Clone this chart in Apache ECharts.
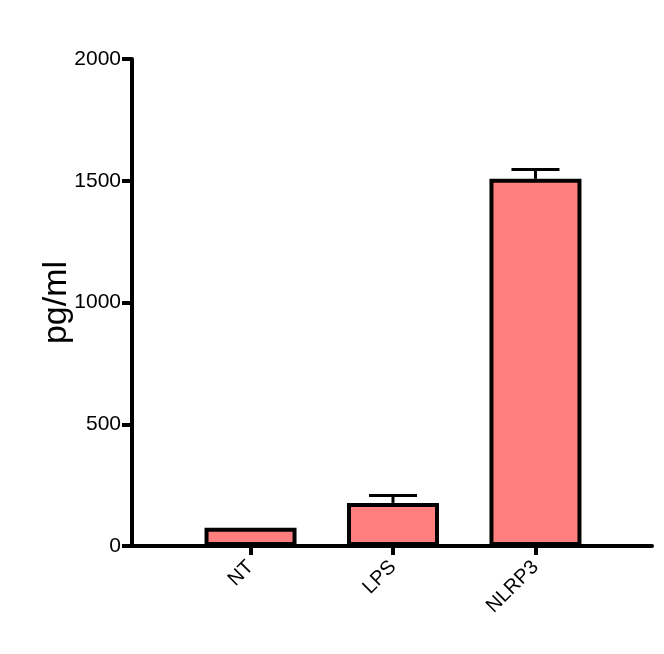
<!DOCTYPE html>
<html>
<head>
<meta charset="utf-8">
<script src="https://cdn.jsdelivr.net/npm/echarts@6/dist/echarts.min.js"></script>
<style>
  html, body { margin: 0; padding: 0; background: #fff; }
  #main { width: 664px; height: 654px; }
</style>
</head>
<body>
<div id="main"></div>
<script>
// data
var categories = ['NT', 'LPS', 'NLRP3'];
var means = [75, 177, 1508];
var sem = [0, 30, 38];
var yTicks = [0, 500, 1000, 1500, 2000];

var font = '"Liberation Sans", Arial, sans-serif';
var positions = categories.map(function (c, i) { return i + 1; });

var chart = echarts.init(document.getElementById('main'));
chart.setOption({
    backgroundColor: '#fff',
    animation: false,
    grid: { left: 132, right: 12, top: 59, bottom: 108 },
    xAxis: {
        type: 'value',
        min: 0.168,
        max: 3.818,
        splitLine: { show: false },
        axisLine: { lineStyle: { color: '#000', width: 4 } },
        axisTick: {
            show: true, length: 9, customValues: positions,
            lineStyle: { color: '#000', width: 4 }
        },
        axisLabel: {
            customValues: positions,
            rotate: 45,
            margin: 18,
            color: '#000',
            fontFamily: font,
            fontSize: 20,
            formatter: function (v) { return categories[Math.round(v) - 1]; }
        }
    },
    yAxis: {
        type: 'value',
        min: yTicks[0],
        max: yTicks[yTicks.length - 1],
        interval: 500,
        name: 'pg/ml',
        nameLocation: 'middle',
        nameGap: 58,
        nameMoveOverlap: false,
        nameTextStyle: { color: '#000', fontFamily: font, fontSize: 34 },
        splitLine: { show: false },
        axisLine: { show: true, lineStyle: { color: '#000', width: 4 } },
        axisTick: { show: true, length: 10, lineStyle: { color: '#000', width: 4 } },
        axisLabel: {
            color: '#000', fontFamily: font, fontSize: 21, margin: 11,
            formatter: function (v) { return String(v); }
        }
    },
    series: [
        {
            type: 'bar',
            barWidth: 92,
            z: 3,
            data: means.map(function (v, i) { return [positions[i], v]; }),
            itemStyle: { color: '#FF7F7F', borderColor: '#000', borderWidth: 4 }
        },
        {
            type: 'custom',
            data: means.map(function (v, i) { return [positions[i], v, v + sem[i]]; }),
            z: 1,
            renderItem: function (params, api) {
                // no error bar drawn when it would sit inside the bar border
                if (api.value(2) <= api.value(1)) return null;
                var base = api.coord([api.value(0), api.value(1)]);
                var top = api.coord([api.value(0), api.value(2)]);
                var half = 24;
                var style = { stroke: '#000', lineWidth: 3 };
                return {
                    type: 'group',
                    children: [
                        { type: 'line', shape: { x1: base[0], y1: base[1], x2: top[0], y2: top[1] }, style: style },
                        { type: 'line', shape: { x1: top[0] - half, y1: top[1], x2: top[0] + half, y2: top[1] }, style: style }
                    ]
                };
            }
        }
    ]
});
</script>
</body>
</html>
